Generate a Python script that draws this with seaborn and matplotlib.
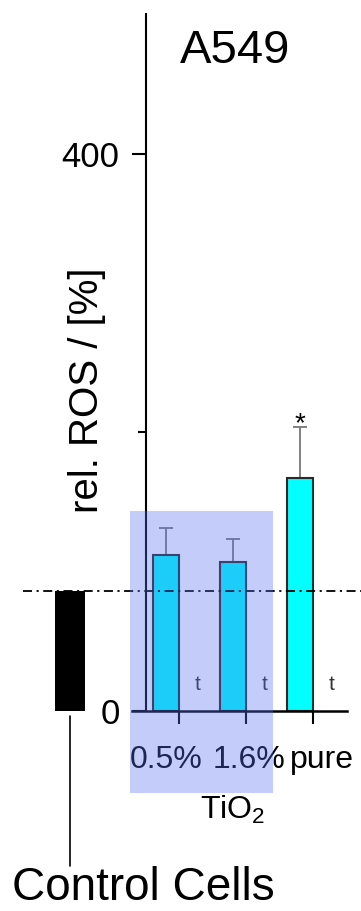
import numpy as np
import pandas as pd
import matplotlib
matplotlib.use("Agg")
import matplotlib.pyplot as plt
from matplotlib.patches import Rectangle
from matplotlib.lines import Line2D
import seaborn as sns

# ---- data ----
categories = ["0.5%", "1.6%", "pure"]
ros_values = [112.0, 107.2, 167.1]
ros_errors = [19.7, 16.1, 36.6]
test_marks = ["t", "t", "t"]
signif_marks = ["", "", "*"]
control_label = ["Control Cells"]
control_value = [86.5]
y_ticks = [0, 400]
y_ticklabels = ["0", "400"]
y_minor = [200]
group_label = "TiO$_2$"
cell_line = "A549"
y_label = "rel. ROS / [%]"

sns.set_theme(style="white")
plt.rcParams["font.family"] = ["Liberation Sans", "DejaVu Sans"]
plt.rcParams["mathtext.fontset"] = "custom"
plt.rcParams["mathtext.rm"] = "Liberation Sans"
plt.rcParams["mathtext.it"] = "Liberation Sans"
plt.rcParams["text.color"] = "black"
plt.rcParams["axes.labelcolor"] = "black"
plt.rcParams["xtick.color"] = "black"
plt.rcParams["ytick.color"] = "black"

W, H = 361, 911
def fx(px):
    return px / W
def fy(py):
    return 1 - py / H

fig = plt.figure(figsize=(W / 100, H / 100), dpi=100)
fig.patch.set_facecolor("white")

# main axes
ax = fig.add_axes([fx(132), fy(711), 215 / W, 697 / H])
ax.set_facecolor("none")
df = pd.DataFrame({"sample": categories, "ros": ros_values})
sns.barplot(data=df, x="sample", y="ros", color="#00ffff", saturation=1,
            width=0.388, edgecolor="#2a2a2a", linewidth=1.5, errorbar=None,
            ax=ax, zorder=2)
xpos = np.arange(len(categories))
ax.errorbar(xpos, ros_values, yerr=[np.zeros(len(ros_errors)), ros_errors],
            fmt="none", ecolor="#777777", elinewidth=1.3, capsize=5,
            capthick=1.3, zorder=1.5)
ax.set_xlim(-0.507, 2.701)
ax.set_ylim(0, 500.5)
for s in ["top", "right"]:
    ax.spines[s].set_visible(False)
ax.spines["left"].set_position(("axes", 14 / 215))
ax.spines["left"].set_linewidth(1.5)
ax.spines["left"].set_color("black")
ax.spines["bottom"].set_linewidth(1.8)
ax.spines["bottom"].set_color("black")
ax.set_xticks(xpos + 0.194)
ax.set_xticklabels([])
ax.set_xlabel("")
ax.set_ylabel("")
ax.tick_params(axis="x", bottom=True, direction="out", length=9.5, width=1.5, color="black")
ax.set_yticks(y_ticks)
ax.set_yticklabels(y_ticklabels, fontsize=25)
ax.set_yticks(y_minor, minor=True)
ax.tick_params(axis="y", which="major", left=True, direction="out", length=10,
               width=1.5, color="black", pad=9, labelcolor="black")
ax.tick_params(axis="y", which="minor", left=True, direction="out", length=6,
               width=1.5, color="black")

for i, (v, e, t, s) in enumerate(zip(ros_values, ros_errors, test_marks, signif_marks)):
    ax.text(i + 0.478, 15, t, ha="center", va="baseline", fontsize=15, color="#333333")
    if s:
        ax.text(i, v + e - 3, s, ha="center", va="baseline", fontsize=20, color="black")

ax.axhline(control_value[0], xmin=(23 - 132) / 215, xmax=(361 - 132) / 215,
           clip_on=False, color="black", lw=1.3, ls=(0, (5, 2.5, 1.2, 2.5)), zorder=3)

# control bar axes
ax0 = fig.add_axes([fx(55), fy(711), 30 / W, 697 / H])
sns.barplot(x=control_label, y=control_value, color="black", saturation=1,
            width=1.0, linewidth=0, errorbar=None, ax=ax0)
ax0.set_xlim(-0.5, 0.5)
ax0.set_ylim(0, 500.5)
ax0.axis("off")

fig.add_artist(Line2D([fx(70), fx(70)], [fy(716), fy(866)], color="black", lw=1.2))
fig.text(fx(12), fy(900), control_label[0], fontsize=33, va="baseline", ha="left")

# x category labels
for lab, xl in zip(categories, [130, 213, 290]):
    fig.text(fx(xl), fy(768), lab, fontsize=23, ha="left", va="baseline")
fig.text(fx(200), fy(819), group_label, fontsize=23, ha="left", va="baseline")

fig.text(fx(235), fy(63), cell_line, fontsize=34, ha="center", va="baseline")
fig.text(fx(87), fy(390), y_label, fontsize=29, rotation=90, ha="center", va="center")

fig.add_artist(Rectangle((fx(130), fy(793)), 143 / W, (793 - 511) / H,
                         transform=fig.transFigure, facecolor="#5670f0",
                         alpha=0.35, lw=0, zorder=10))

fig.savefig("out.png", dpi=100, facecolor="white")
